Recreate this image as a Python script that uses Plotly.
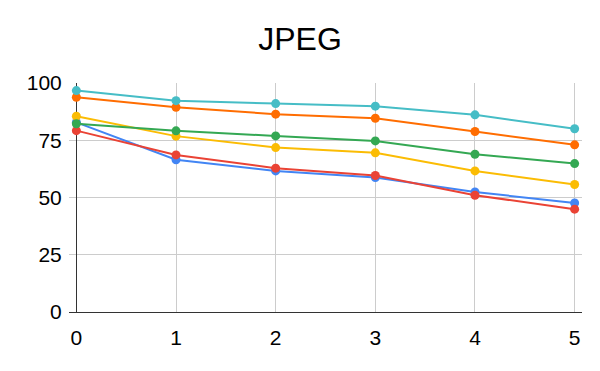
import plotly.graph_objects as go

# Valeurs
x_vals = [0, 1, 2, 3, 4, 5]

serie_bleue  = [82.8, 66.5, 61.6, 58.7, 52.4, 47.6]
serie_rouge  = [79.2, 68.6, 62.8, 59.6, 51.0, 44.9]
serie_jaune  = [85.5, 76.8, 71.8, 69.5, 61.6, 55.7]
serie_verte  = [82.2, 79.1, 76.9, 74.7, 68.9, 64.8]
serie_orange = [93.8, 89.4, 86.4, 84.6, 78.8, 73.0]
serie_turq   = [96.7, 92.3, 91.0, 89.9, 86.1, 80.0]

y_ticks = [0, 25, 50, 75, 100]

series = [
    (serie_bleue,  "#4285F4"),
    (serie_rouge,  "#EA4335"),
    (serie_jaune,  "#FBBC04"),
    (serie_verte,  "#34A853"),
    (serie_orange, "#FF6D01"),
    (serie_turq,   "#46BDC6"),
]

# la page ajoute une marge de 8 px autour de la figure
W, H = 584, 355

fig = go.Figure()

for valeurs, couleur in series:
    fig.add_trace(go.Scatter(
        x=x_vals,
        y=valeurs,
        mode="lines+markers",
        line=dict(color=couleur, width=2),
        marker=dict(color=couleur, size=9),
        showlegend=False,
        cliponaxis=False,
    ))

fig.update_layout(
    width=W,
    height=H,
    margin=dict(l=61, r=10, t=75, b=51),
    paper_bgcolor="white",
    plot_bgcolor="white",
    font=dict(family="Liberation Sans, Arial, sans-serif", color="#000000"),
    title=dict(
        text="JPEG",
        x=0.5, xanchor="center",
        y=(H - 30.5) / H, yanchor="middle",
        font=dict(size=32, color="#000000"),
    ),
    xaxis=dict(
        range=[-0.074, 5.074],
        tickvals=x_vals,
        showgrid=True,
        gridcolor="#CCCCCC",
        gridwidth=1,
        zeroline=True,
        zerolinecolor="#333333",
        zerolinewidth=1,
        showline=False,
        ticks="outside",
        ticklen=7,
        tickcolor="rgba(0,0,0,0)",
        tickfont=dict(size=21),
    ),
    yaxis=dict(
        range=[0, 100],
        tickvals=y_ticks,
        showgrid=True,
        gridcolor="#CCCCCC",
        gridwidth=1,
        zeroline=True,
        zerolinecolor="#333333",
        zerolinewidth=1,
        showline=False,
        ticks="outside",
        ticklen=2,
        tickcolor="rgba(0,0,0,0)",
        tickfont=dict(size=21),
    ),
)

fig.write_html("out.html")
